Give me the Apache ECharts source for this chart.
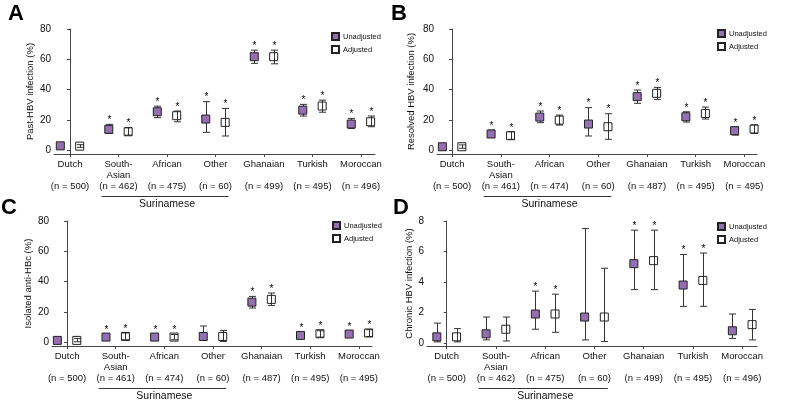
<!DOCTYPE html>
<html>
<head>
<meta charset="utf-8">
<script src="https://cdn.jsdelivr.net/npm/echarts@6/dist/echarts.min.js"></script>
<style>
  html, body { margin: 0; padding: 0; background: #fff; }
  #chart { width: 788px; height: 407px; }
</style>
</head>
<body>
<div id="chart"></div>
<script>
// groups on the x axis
var groupNames = ['Dutch', 'South-Asian', 'African', 'Other', 'Ghanaian', 'Turkish', 'Moroccan'];
var surinameseGroups = [1, 3];

// sample sizes per panel
var nPast = [500, 462, 475, 60, 499, 495, 496];
var nResolved = [500, 461, 474, 60, 487, 495, 495];
var nIsolated = [500, 461, 474, 60, 487, 495, 495];
var nChronic = [500, 462, 475, 60, 499, 495, 496];

// [estimate, lower, upper] per group
var pastUnadj = [[2.8,2.0,3.8],[13.7,11.0,17.0],[25.3,21.4,29.0],[20.5,11.7,32.0],[61.7,57.3,66.0],[26.4,22.5,30.2],[17.2,14.3,20.9]];
var pastAdj = [[2.6,1.8,3.6],[12.1,9.9,14.8],[22.7,18.7,25.8],[18.3,9.3,27.5],[61.7,57.0,66.0],[29.1,25.0,33.0],[18.7,15.4,22.5]];

var resolvedUnadj = [[2.2,1.2,3.4],[10.6,8.4,13.2],[21.8,18.1,25.8],[17.2,9.3,28.0],[35.3,30.9,39.7],[22.0,18.5,25.3],[12.8,9.9,15.4]];
var resolvedAdj = [[2.2,1.2,3.4],[9.5,7.1,12.1],[19.8,16.5,23.1],[15.4,7.1,24.0],[37.5,33.5,41.4],[24.2,20.5,28.4],[13.9,11.0,16.7]];

var isolatedUnadj = [[1.1,0.4,2.2],[3.3,2.0,5.0],[3.3,2.0,5.0],[3.7,1.1,10.6],[26.4,22.5,30.2],[4.4,2.6,6.2],[5.3,3.3,7.1]];
var isolatedAdj = [[1.1,0.2,2.4],[3.7,1.5,6.0],[3.3,1.5,5.0],[3.7,0.4,7.7],[28.2,24.2,32.4],[5.5,3.3,7.5],[6.0,3.7,8.2]];

var chronicUnadj = [[0.4,0.07,1.3],[0.6,0.2,1.7],[1.9,0.9,3.4],[1.7,0.2,7.5],[5.2,3.5,7.4],[3.8,2.4,5.8],[0.8,0.3,1.9]];
var chronicAdj = [[0.4,0.07,0.94],[0.9,0.13,1.7],[1.9,0.7,3.2],[1.7,0.1,4.9],[5.4,3.5,7.4],[4.1,2.4,5.9],[1.2,0.2,2.2]];

// significance stars (1 = shown above both estimates)
var pastStars = [0,1,1,1,1,1,1];
var resolvedStars = [0,1,1,1,1,1,1];
var isolatedStars = [0,1,1,0,1,1,1];
var chronicStars = [0,0,1,0,1,1,0];

var yTicksPct = [0, 20, 40, 60, 80];
var yTicksChronic = [0, 2, 4, 6, 8];

var purple = '#9570b0';
var ink = '#111';
var axisColor = '#444';
var font = 'Liberation Sans, Arial, Helvetica, sans-serif';

var panels = [
  {letter:'A', lx:8, ly:3, grid:{left:54, top:29, width:321, height:125}, xMin:-0.33, xMax:6.29,
   yMin:-2.6, yMax:80, yTicks:yTicksPct, yName:'Past-HBV infection (%)', nameGap:19,
   legend:{left:331, top:32}, unadj:pastUnadj, adj:pastAdj, stars:pastStars, n:nPast},
  {letter:'B', lx:391, ly:3, grid:{left:437, top:29, width:320, height:125}, xMin:-0.31, xMax:6.26,
   yMin:-2.6, yMax:80, yTicks:yTicksPct, yName:'Resolved HBV infection (%)', nameGap:21,
   legend:{left:717, top:29}, unadj:resolvedUnadj, adj:resolvedAdj, stars:resolvedStars, n:nResolved},
  {letter:'C', lx:1, ly:197, grid:{left:52, top:221, width:320, height:125}, xMin:-0.31, xMax:6.27,
   yMin:-2.6, yMax:80, yTicks:yTicksPct, yName:'Isolated anti-HBc (%)', nameGap:19,
   legend:{left:332, top:221}, unadj:isolatedUnadj, adj:isolatedAdj, stars:isolatedStars, n:nIsolated},
  {letter:'D', lx:393, ly:197, grid:{left:427, top:221, width:330, height:125}, xMin:-0.4, xMax:6.3,
   yMin:-0.2, yMax:8, yTicks:yTicksChronic, yName:'Chronic HBV infection (%)', nameGap:11,
   legend:{left:717, top:222}, unadj:chronicUnadj, adj:chronicAdj, stars:chronicStars, n:nChronic}
];

function errorBarItem(params, api){
  var x = api.value(0);
  var top = api.coord([x, api.value(2)]);
  var bot = api.coord([x, api.value(1)]);
  var cx = Math.round(top[0]) + 0.5;
  var hw = 3.5;
  var st = {stroke:'#333', lineWidth:1};
  var children = [
    {type:'line', shape:{x1:cx, y1:top[1], x2:cx, y2:bot[1]}, style:st},
    {type:'line', shape:{x1:cx-hw, y1:top[1], x2:cx+hw, y2:top[1]}, style:st},
    {type:'line', shape:{x1:cx-hw, y1:bot[1], x2:cx+hw, y2:bot[1]}, style:st}
  ];
  if(api.value(3)){
    children.push({type:'text', style:{text:'*', x:cx, y:top[1]-4, align:'center', verticalAlign:'middle',
      fontSize:10, fontFamily:font, fill:'#000'}});
  }
  return {type:'group', children:children};
}

function bracketItem(params, api){
  var yb = api.value(3);
  var a = api.coord([api.value(0), yb]);
  var b = api.coord([api.value(1), yb]);
  var c = api.coord([api.value(2), yb]);
  var ly = Math.round(a[1] + 42) + 0.5;
  return {type:'group', children:[
    {type:'line', shape:{x1:a[0], y1:ly, x2:b[0], y2:ly}, style:{stroke:'#333', lineWidth:1}},
    {type:'text', style:{text:'Surinamese', x:c[0], y:a[1]+50, align:'center', verticalAlign:'middle',
      fontSize:10.5, fontFamily:font, fill:ink}}
  ]};
}

var option = {
  animation: false,
  textStyle: {fontFamily: font},
  title: [], grid: [], xAxis: [], yAxis: [], legend: [], series: []
};

panels.forEach(function(p, k){
  option.title.push({text:p.letter, left:p.lx, top:p.ly, padding:0,
    textStyle:{fontSize:22, fontWeight:'bold', color:'#000', fontFamily:font}});
  option.grid.push({left:p.grid.left, top:p.grid.top, width:p.grid.width, height:p.grid.height,
    containLabel:false, outerBoundsMode:'none'});
  var nArr = p.n;
  option.xAxis.push({
    type:'value', gridIndex:k, min:p.xMin, max:p.xMax,
    splitLine:{show:false},
    axisLine:{show:true, onZero:false, lineStyle:{color:axisColor, width:1}},
    axisTick:{show:true, length:3, customValues:[0,1,2,3,4,5,6], lineStyle:{color:axisColor}},
    axisLabel:{
      customValues:[0,1,2,3,4,5,6], margin:5, fontSize:9.5, lineHeight:11, color:ink,
      formatter:function(v){
        var i = Math.round(v);
        var name = groupNames[i];
        var top = name.indexOf('-') > 0 ? name.replace('-', '-\n') : name + '\n';
        return top + '\n(n = ' + nArr[i] + ')';
      }
    }
  });
  option.yAxis.push({
    type:'value', gridIndex:k, min:p.yMin, max:p.yMax,
    name:p.yName, nameLocation:'middle', nameGap:p.nameGap,
    nameTextStyle:{fontSize:9.5, color:ink},
    splitLine:{show:false},
    axisLine:{show:true, lineStyle:{color:axisColor, width:1}},
    axisTick:{show:true, length:3, customValues:p.yTicks, lineStyle:{color:axisColor}},
    axisLabel:{customValues:p.yTicks, margin:3, fontSize:10, color:ink}
  });
  option.legend.push({
    left:p.legend.left, top:p.legend.top, orient:'vertical', padding:0,
    itemWidth:7, itemHeight:7, itemGap:4, icon:'rect', selectedMode:false,
    data:['Unadjusted', 'Adjusted'],
    textStyle:{fontSize:7.5, lineHeight:8, color:ink, padding:[0,0,0,-1]}
  });

  [[p.unadj, -0.2], [p.adj, 0.2]].forEach(function(s){
    option.series.push({
      type:'custom', xAxisIndex:k, yAxisIndex:k, z:2, clip:false, silent:true,
      renderItem:errorBarItem,
      data:s[0].map(function(d, i){ return [i + s[1], d[1], d[2], p.stars[i]]; })
    });
  });
  option.series.push({
    name:'Unadjusted', type:'scatter', xAxisIndex:k, yAxisIndex:k, z:3,
    symbol:'rect', symbolSize:8,
    itemStyle:{color:purple, borderColor:'#222', borderWidth:1, opacity:1},
    emphasis:{disabled:true},
    data:p.unadj.map(function(d, i){ return [i - 0.2, d[0]]; })
  });
  option.series.push({
    name:'Adjusted', type:'scatter', xAxisIndex:k, yAxisIndex:k, z:3,
    symbol:'rect', symbolSize:8,
    itemStyle:{color:'rgba(255,255,255,0)', borderColor:'#222', borderWidth:1, opacity:1},
    emphasis:{disabled:true},
    data:p.adj.map(function(d, i){ return [i + 0.2, d[0]]; })
  });
  option.series.push({
    type:'custom', xAxisIndex:k, yAxisIndex:k, clip:false, silent:true,
    renderItem:bracketItem,
    data:[[surinameseGroups[0] - 0.35, surinameseGroups[1] + 0.27,
           (surinameseGroups[0] + surinameseGroups[1]) / 2, p.yMin]]
  });
});

var chart = echarts.init(document.getElementById('chart'));
chart.setOption(option);
</script>
</body>
</html>
